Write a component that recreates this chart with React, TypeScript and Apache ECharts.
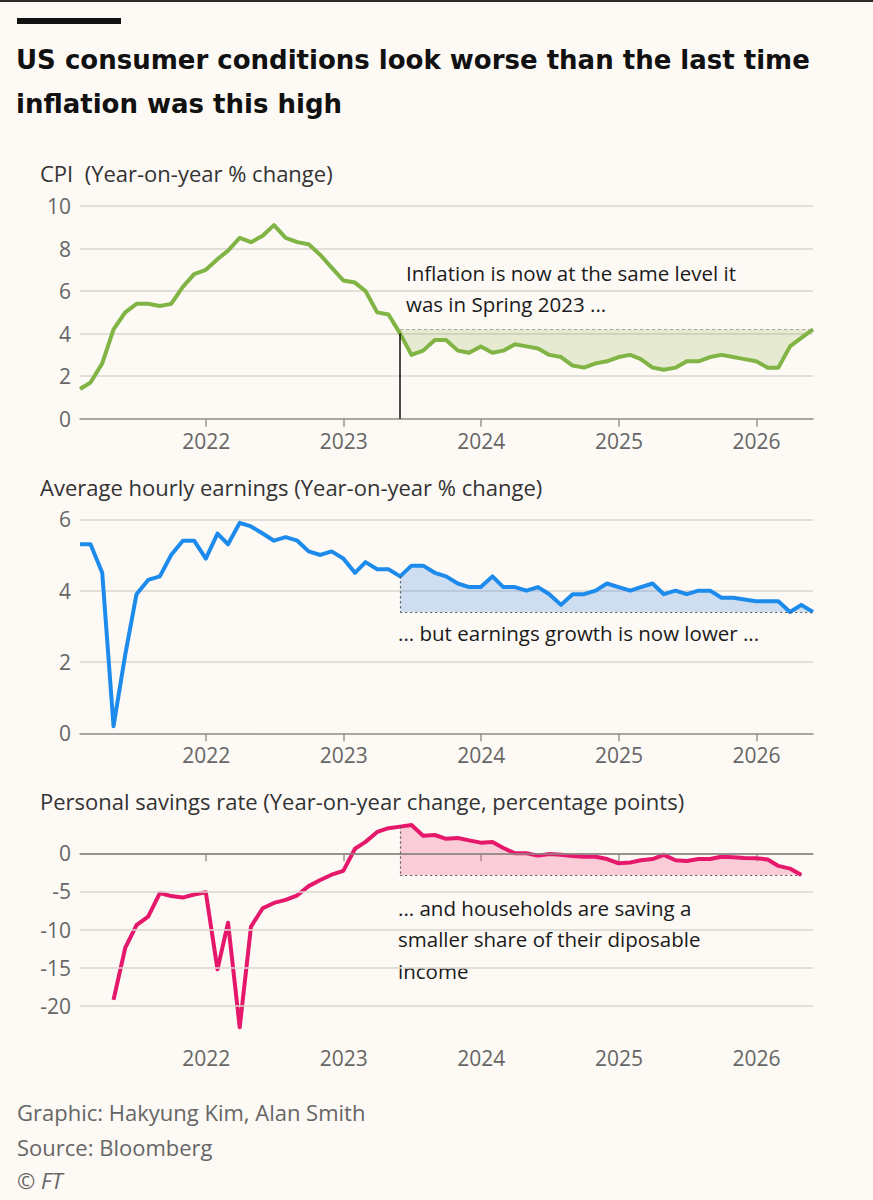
import React, { useEffect, useRef } from "react";
import * as echarts from "echarts";

// ---- Data ----
const START_YEAR = 2021;
const MONTH_COUNT = 65; // Jan 2021 .. May 2026, month-end
const monthEnds: number[] = Array.from({ length: MONTH_COUNT }, (_, i) =>
  new Date(START_YEAR, i + 1, 0).getTime()
);
const yearTicks = [2022, 2023, 2024, 2025, 2026];
const yearTickValues = yearTicks.map((y) => new Date(y, 0, 1).getTime());

const cpi = [
  1.4, 1.7, 2.6, 4.2, 5.0, 5.4, 5.4, 5.3, 5.4, 6.2, 6.8, 7.0,
  7.5, 7.9, 8.5, 8.3, 8.6, 9.1, 8.5, 8.3, 8.2, 7.7, 7.1, 6.5,
  6.4, 6.0, 5.0, 4.9, 4.0, 3.0, 3.2, 3.7, 3.7, 3.2, 3.1, 3.4,
  3.1, 3.2, 3.5, 3.4, 3.3, 3.0, 2.9, 2.5, 2.4, 2.6, 2.7, 2.9,
  3.0, 2.8, 2.4, 2.3, 2.4, 2.7, 2.7, 2.9, 3.0, 2.9, 2.8, 2.7,
  2.4, 2.4, 3.4, 3.8, 4.2,
];

const earnings = [
  5.3, 5.3, 4.5, 0.2, 2.2, 3.9, 4.3, 4.4, 5.0, 5.4, 5.4, 4.9,
  5.6, 5.3, 5.9, 5.8, 5.6, 5.4, 5.5, 5.4, 5.1, 5.0, 5.1, 4.9,
  4.5, 4.8, 4.6, 4.6, 4.4, 4.7, 4.7, 4.5, 4.4, 4.2, 4.1, 4.1,
  4.4, 4.1, 4.1, 4.0, 4.1, 3.9, 3.6, 3.9, 3.9, 4.0, 4.2, 4.1,
  4.0, 4.1, 4.2, 3.9, 4.0, 3.9, 4.0, 4.0, 3.8, 3.8, 3.75, 3.7,
  3.7, 3.7, 3.4, 3.6, 3.4,
];

const SAVINGS_START = 3; // Apr 2021
const savings = [
  -19.2, -12.4, -9.4, -8.3, -5.2, -5.6, -5.8, -5.4, -5.1,
  -15.2, -9.1, -22.8, -9.6, -7.2, -6.5, -6.1, -5.5, -4.3, -3.5, -2.8, -2.3,
  0.6, 1.5, 2.8, 3.3, 3.5, 3.7, 2.3, 2.4, 1.9, 2.0, 1.7, 1.4,
  1.5, 0.7, 0.0, 0.0, -0.3, -0.1, -0.2, -0.35, -0.45, -0.45, -0.75, -1.3,
  -1.2, -0.9, -0.75, -0.2, -0.9, -1.0, -0.75, -0.75, -0.45, -0.5, -0.6, -0.65,
  -0.8, -1.65, -2.0, -2.85,
];

const savingsTicks = [-20, -15, -10, -5, 0];
const COMPARE_INDEX = 28; // May 2023

// ---- Styles ----
const FONT = "'Open Sans', 'Noto Sans', sans-serif";
const TITLE_FONT = "'DejaVu Sans', 'Open Sans', sans-serif";
const BG = "#fdf9f5";
const GREEN = "#80b444";
const BLUE = "#1c8bec";
const PINK = "#e5186b";
const GRID = "#d9d4ce";
const AXIS = "#99948f";

function pairs(values: number[], offset = 0): [number, number][] {
  return values.map((v, i) => [monthEnds[i + offset], v]);
}

export default function App() {
  const ref = useRef<HTMLDivElement>(null);

  useEffect(() => {
    if (!ref.current) return;
    const chart = echarts.init(ref.current, null, { renderer: "svg" });

    const tCmp = monthEnds[COMPARE_INDEX];
    const tEnd = monthEnds[MONTH_COUNT - 1];
    const cpiLevel = cpi[cpi.length - 1];
    const earnLevel = earnings[earnings.length - 1];
    const savLevel = savings[savings.length - 1];
    const tSavEnd = monthEnds[SAVINGS_START + savings.length - 1];
    const savCmp = savings[COMPARE_INDEX - SAVINGS_START];

    const gridBox = (top: number, height: number) => ({
      left: 80,
      width: 733,
      top,
      height,
      containLabel: false,
    });

    const xAxis = (gridIndex: number, margin: number) => ({
      type: "value",
      gridIndex,
      min: monthEnds[0],
      max: tEnd,
      axisLine: { show: true, lineStyle: { color: AXIS, width: 1.5 } },
      axisTick: {
        show: true,
        length: 8,
        customValues: yearTickValues,
        lineStyle: { color: AXIS, width: 1.5 },
      },
      axisLabel: {
        customValues: yearTickValues,
        formatter: (v: number) => String(new Date(v).getFullYear()),
        color: "#666",
        fontSize: 21,
        fontFamily: FONT,
        margin,
      },
      splitLine: { show: false },
    });

    const yLabel = { color: "#666", fontSize: 21, fontFamily: FONT, margin: 9 };

    const text = (
      t: string,
      x: number,
      y: number,
      size: number,
      color: string,
      extra: any = {}
    ) => ({
      type: "text",
      x,
      y,
      silent: true,
      style: {
        text: t,
        fill: color,
        fontSize: size,
        fontFamily: FONT,
        verticalAlign: "middle",
        align: "left",
        ...extra,
      },
    });

    const dashed = (color: string, type: any, width = 1.2) => ({
      color,
      type,
      width,
    });

    const titleStyle = { fontFamily: TITLE_FONT, fontWeight: "bold" };

    const option: any = {
      animation: false,
      backgroundColor: BG,
      grid: [gridBox(206, 212.7), gridBox(519.3, 214), gridBox(822.8, 213.7)],
      xAxis: [xAxis(0, 12), xAxis(1, 11), xAxis(2, 11)],
      yAxis: [
        {
          type: "value",
          gridIndex: 0,
          min: 0,
          max: 10,
          interval: 2,
          axisLine: { show: false },
          axisTick: { show: false },
          axisLabel: yLabel,
          splitLine: { lineStyle: { color: GRID, width: 1.5 } },
        },
        {
          type: "value",
          gridIndex: 1,
          min: 0,
          max: 6,
          interval: 2,
          axisLine: { show: false },
          axisTick: { show: false },
          axisLabel: yLabel,
          splitLine: { lineStyle: { color: GRID, width: 1.5 } },
        },
        {
          type: "value",
          gridIndex: 2,
          min: -24,
          max: 4,
          axisLine: { show: false },
          axisTick: { show: false },
          axisLabel: { ...yLabel, customValues: savingsTicks },
          splitLine: { show: false },
        },
      ],
      series: [
        // CPI fill + reference lines
        {
          type: "line",
          xAxisIndex: 0,
          yAxisIndex: 0,
          data: pairs(cpi.slice(COMPARE_INDEX), COMPARE_INDEX),
          symbol: "none",
          lineStyle: { width: 0, opacity: 0 },
          areaStyle: { origin: cpiLevel, color: "rgba(140,175,60,0.2)", opacity: 1 },
          z: 1,
          silent: true,
          markLine: {
            silent: true,
            symbol: "none",
            label: { show: false },
            data: [
              [
                { coord: [tCmp, cpiLevel], lineStyle: dashed("#a8a39e", [3, 3], 1.2) },
                { coord: [tEnd, cpiLevel] },
              ],
              [
                { coord: [tCmp, 0], lineStyle: { color: "#111", width: 1.5, type: "solid" } },
                { coord: [tCmp, cpi[COMPARE_INDEX]] },
              ],
            ],
          },
        },
        {
          type: "line",
          xAxisIndex: 0,
          yAxisIndex: 0,
          data: pairs(cpi),
          symbol: "none",
          lineStyle: { color: GREEN, width: 4, join: "round" },
          z: 3,
        },
        // Earnings
        {
          type: "line",
          xAxisIndex: 1,
          yAxisIndex: 1,
          data: pairs(earnings.slice(COMPARE_INDEX), COMPARE_INDEX),
          symbol: "none",
          lineStyle: { width: 0, opacity: 0 },
          areaStyle: { origin: earnLevel, color: "rgba(60,140,225,0.24)", opacity: 1 },
          z: 1,
          silent: true,
          markLine: {
            silent: true,
            symbol: "none",
            label: { show: false },
            data: [
              [
                { coord: [tCmp, earnLevel], lineStyle: dashed("#555", [2, 3]) },
                { coord: [tEnd, earnLevel] },
              ],
              [
                { coord: [tCmp, earnings[COMPARE_INDEX]], lineStyle: dashed("#555", [2, 3]) },
                { coord: [tCmp, earnLevel] },
              ],
            ],
          },
        },
        {
          type: "line",
          xAxisIndex: 1,
          yAxisIndex: 1,
          data: pairs(earnings),
          symbol: "none",
          lineStyle: { color: BLUE, width: 4, join: "round" },
          z: 3,
        },
        // Savings
        {
          type: "line",
          xAxisIndex: 2,
          yAxisIndex: 2,
          data: pairs(
            savings.slice(COMPARE_INDEX - SAVINGS_START),
            COMPARE_INDEX
          ),
          symbol: "none",
          lineStyle: { width: 0, opacity: 0 },
          areaStyle: { origin: savLevel, color: "rgba(240,90,140,0.28)", opacity: 1 },
          z: 1,
          silent: true,
          markLine: {
            silent: true,
            symbol: "none",
            label: { show: false },
            data: [
              ...savingsTicks
                .filter((v) => v !== 0)
                .map((v) => ({ yAxis: v, lineStyle: { color: GRID, width: 1.5, type: "solid" } })),
              { yAxis: 0, lineStyle: { color: "#8f8a85", width: 1.5, type: "solid" } },
              [
                { coord: [tCmp, savLevel], lineStyle: dashed("#555", [2, 3]) },
                { coord: [tSavEnd, savLevel] },
              ],
              [
                { coord: [tCmp, savCmp], lineStyle: dashed("#555", [2, 3]) },
                { coord: [tCmp, savLevel] },
              ],
            ],
          },
        },
        {
          type: "line",
          xAxisIndex: 2,
          yAxisIndex: 2,
          data: pairs(savings, SAVINGS_START),
          symbol: "none",
          lineStyle: { color: PINK, width: 4, join: "round" },
          z: 3,
        },
      ],
      graphic: [
        { type: "rect", silent: true, shape: { x: 0, y: 0, width: 873, height: 2 }, style: { fill: "#2b2b2b" } },
        { type: "rect", silent: true, shape: { x: 17, y: 18, width: 104, height: 6 }, style: { fill: "#111" } },
        text("US consumer conditions look worse than the last time", 16, 60, 26, "#111", titleStyle),
        text("inflation was this high", 16, 104, 26, "#111", titleStyle),
        text("CPI  (Year-on-year % change)", 40, 173, 22, "#333"),
        text("Average hourly earnings (Year-on-year % change)", 40, 487, 22, "#333"),
        text("Personal savings rate (Year-on-year change, percentage points)", 40, 801, 22, "#333"),
        text("Inflation is now at the same level it", 406, 273, 20.5, "#1a1a1a"),
        text("was in Spring 2023 ...", 406, 304, 20.5, "#1a1a1a"),
        text("... but earnings growth is now lower ...", 398, 633, 20.5, "#1a1a1a"),
        text("... and households are saving a", 398, 908, 20.5, "#1a1a1a"),
        text("smaller share of their diposable", 398, 939, 20.5, "#1a1a1a"),
        text("income", 398, 971, 20.5, "#1a1a1a"),
        text("Graphic: Hakyung Kim, Alan Smith", 17, 1112, 22, "#666"),
        text("Source: Bloomberg", 17, 1147, 22, "#666"),
        text("© FT", 17, 1180, 22, "#666", { fontStyle: "italic" }),
      ],
    };

    chart.setOption(option);
    return () => chart.dispose();
  }, []);

  return (
    <div
      ref={ref}
      style={{
        position: "absolute",
        left: 0,
        top: 0,
        width: 873,
        height: 1200,
        background: BG,
      }}
    />
  );
}
